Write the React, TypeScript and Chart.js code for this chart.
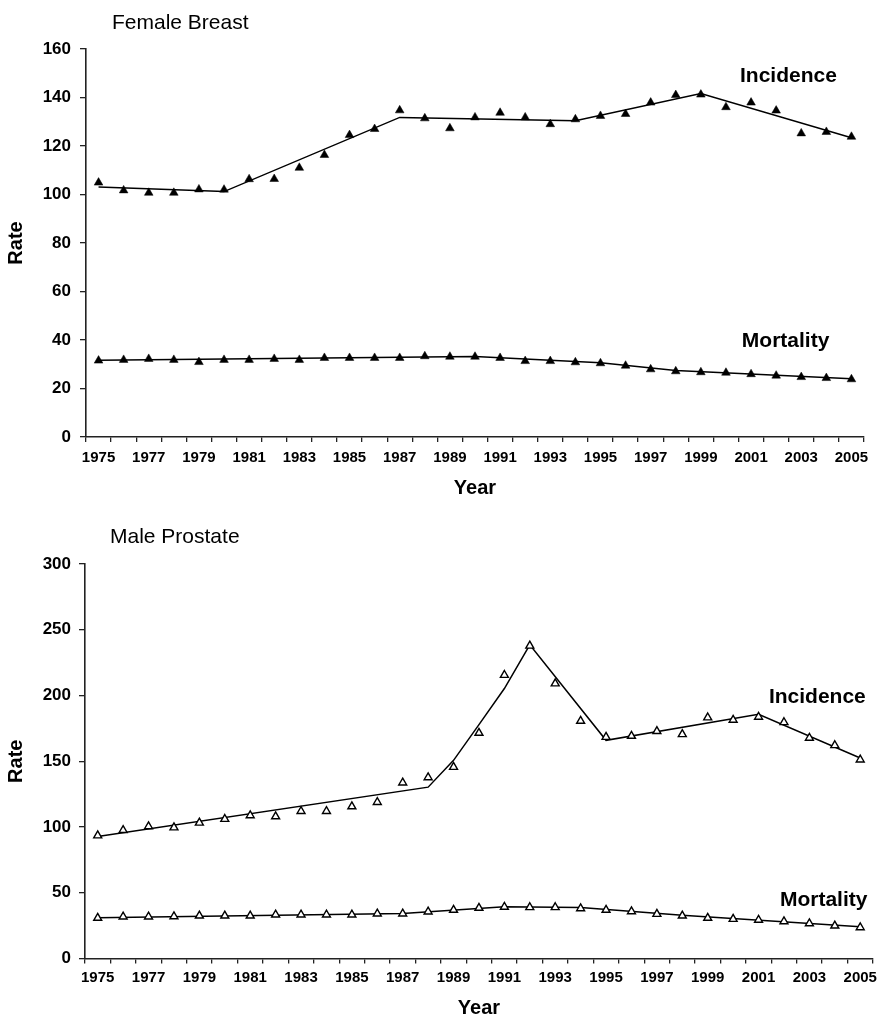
import React, { useEffect, useRef } from 'react';
import { Chart, registerables } from 'chart.js';

Chart.register(...registerables);

const N = null;

const years = [
  '1975', '1976', '1977', '1978', '1979', '1980', '1981', '1982', '1983', '1984',
  '1985', '1986', '1987', '1988', '1989', '1990', '1991', '1992', '1993', '1994',
  '1995', '1996', '1997', '1998', '1999', '2000', '2001', '2002', '2003', '2004', '2005',
];

// Female breast
const breastIncidence = [
  104.9, 101.7, 100.7, 100.7, 102.1, 102.0, 106.3, 106.4, 111.0, 116.3,
  124.5, 127.0, 134.7, 131.4, 127.3, 131.8, 133.7, 131.8, 129.0, 131.0,
  132.4, 133.2, 137.9, 141.0, 141.2, 136.0, 137.9, 134.6, 125.2, 125.8, 123.8,
];
const breastIncidenceTrend = [
  103.1, N, N, N, N, 101.2, N, N, N, N, N, N, 131.8, N, N, N, N, N, N, 130.4,
  N, N, N, N, 141.6, N, N, N, N, N, 123.4,
];
const breastMortality = [
  31.5, 31.8, 32.2, 31.8, 30.9, 31.8, 31.8, 32.2, 31.8, 32.6,
  32.6, 32.6, 32.6, 33.3, 33.1, 33.1, 32.6, 31.3, 31.3, 30.8,
  30.4, 29.4, 27.9, 27.1, 26.7, 26.5, 25.9, 25.3, 24.7, 24.3, 23.8,
];
const breastMortalityTrend = [
  31.6, N, N, N, N, N, N, N, N, N, N, N, N, N, N, 33.2, N, N, N, N,
  30.6, N, N, 27.4, N, N, N, N, N, N, 24.0,
];

// Male prostate
const prostateIncidence = [
  93.5, 97.6, 100.4, 99.6, 103.2, 106.0, 108.8, 108.0, 112.0, 112.0,
  115.6, 118.9, 133.7, 137.7, 145.6, 171.5, 215.5, 237.8, 209.1, 180.6,
  168.4, 169.2, 172.8, 170.5, 183.2, 181.4, 183.7, 179.6, 167.7, 162.1, 151.2,
];
const prostateIncidenceTrend = [
  92.8, N, N, N, N, N, N, N, N, N, N, N, N, 130.3, 150.7, 177.9, 205.3, 238.5, N, N,
  165.9, N, N, N, N, N, 185.7, N, N, N, 152.5,
];
const prostateMortality = [
  30.8, 31.8, 31.8, 32.0, 32.5, 32.5, 32.5, 33.3, 33.3, 33.3,
  33.3, 34.1, 34.1, 35.6, 36.9, 38.4, 39.2, 38.9, 38.9, 38.1,
  36.9, 35.8, 33.8, 32.5, 30.8, 30.0, 29.3, 28.2, 26.7, 24.9, 23.6,
];
const prostateMortalityTrend = [
  31.0, N, N, N, N, N, N, N, N, N, N, N, 34.3, N, N, N, 39.3, N, N, 38.8,
  N, N, N, 32.8, N, N, N, N, N, N, 24.2,
];

const breastYTicks = [0, 20, 40, 60, 80, 100, 120, 140, 160];
const prostateYTicks = [0, 50, 100, 150, 200, 250, 300];

const FONT = "'Liberation Sans', Arial, Helvetica, sans-serif";
const AXIS = '#222';

type Spec = {
  title: string;
  titleX: number;
  titleY: number;
  width: number;
  height: number;
  padTop: number;
  padRight: number;
  yWidth: number;
  xHeight: number;
  xTickPad: number;
  yTickPad: number;
  yTicks: number[];
  incidence: number[];
  incidenceTrend: (number | null)[];
  mortality: number[];
  mortalityTrend: (number | null)[];
  filled: boolean;
  labels: { text: string; fx: number; y: number }[];
};

function makeConfig(s: Spec): any {
  const marker = s.filled
    ? { pointStyle: 'triangle', pointRadius: 5, pointBackgroundColor: '#000', pointBorderColor: '#000', pointBorderWidth: 0.5 }
    : { pointStyle: 'triangle', pointRadius: 4.6, pointBackgroundColor: '#fff', pointBorderColor: '#000', pointBorderWidth: 1.4 };
  const trendStyle = { borderColor: '#000', borderWidth: 1.5, pointRadius: 0, spanGaps: true, fill: false, tension: 0 };

  const textPlugin = {
    id: 'texts',
    afterDraw(chart: any) {
      const ctx = chart.ctx;
      const area = chart.chartArea;
      const yScale = chart.scales.y;
      ctx.save();
      ctx.fillStyle = '#000';
      ctx.textBaseline = 'middle';
      ctx.textAlign = 'left';
      ctx.font = `21px ${FONT}`;
      ctx.fillText(s.title, s.titleX, s.titleY);
      ctx.font = `bold 21px ${FONT}`;
      for (const l of s.labels) {
        const x = area.left + l.fx * (area.right - area.left);
        ctx.fillText(l.text, x, yScale.getPixelForValue(l.y));
      }
      ctx.restore();
    },
  };

  const yMax = s.yTicks[s.yTicks.length - 1];
  const yStep = s.yTicks[1] - s.yTicks[0];

  return {
    type: 'line',
    data: {
      labels: years,
      datasets: [
        { data: s.incidence, showLine: false, ...marker },
        { data: s.mortality, showLine: false, ...marker },
        { data: s.incidenceTrend, ...trendStyle },
        { data: s.mortalityTrend, ...trendStyle },
      ],
    },
    options: {
      animation: false,
      responsive: false,
      maintainAspectRatio: false,
      devicePixelRatio: 1,
      layout: { padding: { top: s.padTop, right: s.padRight, bottom: 0, left: 0 } },
      plugins: { legend: { display: false }, tooltip: { enabled: false }, title: { display: false } },
      scales: {
        x: {
          type: 'category',
          offset: true,
          grid: { offset: true, drawOnChartArea: false, drawTicks: true, tickLength: 5, color: AXIS, lineWidth: 1.3 },
          border: { display: true, color: AXIS, width: 1.6 },
          ticks: {
            autoSkip: false,
            maxRotation: 0,
            minRotation: 0,
            padding: s.xTickPad,
            color: '#000',
            font: { family: FONT, size: 15, weight: 'bold' },
            callback: (_v: any, i: number) => (i % 2 === 0 ? years[i] : ''),
          },
          title: {
            display: true,
            text: 'Year',
            color: '#000',
            font: { family: FONT, size: 20, weight: 'bold' },
            padding: { top: 0, bottom: 0 },
          },
          afterFit: (scale: any) => { scale.height = s.xHeight; },
        },
        y: {
          min: 0,
          max: yMax,
          grid: { drawOnChartArea: false, drawTicks: true, tickLength: 6, color: AXIS, lineWidth: 1.3 },
          border: { display: true, color: AXIS, width: 1.6 },
          ticks: {
            stepSize: yStep,
            padding: s.yTickPad,
            color: '#000',
            font: { family: FONT, size: 17, weight: 'bold' },
          },
          title: {
            display: true,
            text: 'Rate',
            color: '#000',
            font: { family: FONT, size: 20, weight: 'bold' },
            padding: { top: 4, bottom: 0 },
          },
          afterFit: (scale: any) => { scale.width = s.yWidth; },
        },
      },
    },
    plugins: [textPlugin],
  };
}

const breastSpec: Spec = {
  title: 'Female Breast',
  titleX: 112,
  titleY: 23,
  width: 882,
  height: 500,
  padTop: 49,
  padRight: 18,
  yWidth: 86,
  xHeight: 63,
  xTickPad: 7,
  yTickPad: 9,
  yTicks: breastYTicks,
  incidence: breastIncidence,
  incidenceTrend: breastIncidenceTrend,
  mortality: breastMortality,
  mortalityTrend: breastMortalityTrend,
  filled: true,
  labels: [
    { text: 'Incidence', fx: 0.8406, y: 148.9 },
    { text: 'Mortality', fx: 0.843, y: 39.3 },
  ],
};

const prostateSpec: Spec = {
  title: 'Male Prostate',
  titleX: 110,
  titleY: 37,
  width: 882,
  height: 520,
  padTop: 64,
  padRight: 5.5,
  yWidth: 85,
  xHeight: 61.5,
  xTickPad: 5,
  yTickPad: 8,
  yTicks: prostateYTicks,
  incidence: prostateIncidence,
  incidenceTrend: prostateIncidenceTrend,
  mortality: prostateMortality,
  mortalityTrend: prostateMortalityTrend,
  filled: false,
  labels: [
    { text: 'Incidence', fx: 0.868, y: 198.9 },
    { text: 'Mortality', fx: 0.882, y: 44.7 },
  ],
};

function Panel({ spec, top }: { spec: Spec; top: number }) {
  const ref = useRef<HTMLCanvasElement | null>(null);
  useEffect(() => {
    if (!ref.current) return;
    const chart = new Chart(ref.current, makeConfig(spec));
    return () => chart.destroy();
  }, [spec]);
  return (
    <canvas
      ref={ref}
      width={spec.width}
      height={spec.height}
      style={{ position: 'absolute', left: 0, top, width: spec.width, height: spec.height, display: 'block' }}
    />
  );
}

export default function App() {
  return (
    <div
      style={{
        position: 'fixed',
        left: 0,
        top: 0,
        width: 882,
        height: 1017,
        overflow: 'hidden',
        background: '#fff',
      }}
    >
      <Panel spec={breastSpec} top={0} />
      <Panel spec={prostateSpec} top={500} />
    </div>
  );
}
